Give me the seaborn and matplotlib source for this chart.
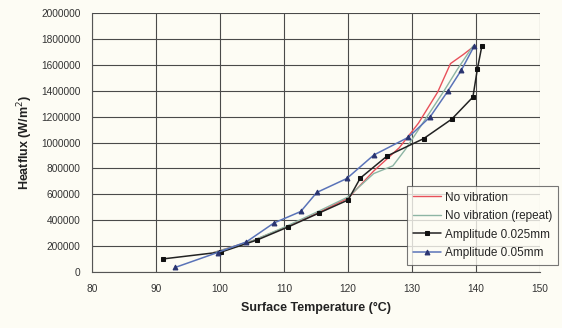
import numpy as np
import pandas as pd
import seaborn as sns
import matplotlib.pyplot as plt

# series
red_t = [99, 105, 110, 115, 120, 124, 128, 131, 134, 136, 138, 139.7]
red_q = [150000, 240000, 340000, 450000, 570000, 780000, 960000, 1150000, 1390000, 1610000, 1680000, 1745000]

green_t = [99, 105, 110, 115, 120, 124, 127, 129, 131, 133, 135, 137, 139.5]
green_q = [150000, 240000, 345000, 460000, 580000, 760000, 820000, 950000, 1100000, 1250000, 1400000, 1560000, 1745000]

amp025_t = [91, 100.2, 105.8, 110.6, 115.5, 120, 121.9, 126.1, 131.8, 136.2, 139.5, 140.2, 140.9]
amp025_q = [100000, 154000, 247000, 347000, 456000, 556000, 725000, 896000, 1030000, 1181000, 1351000, 1568000, 1745000]

amp05_t = [93, 99.6, 104.1, 108.4, 112.6, 115.1, 119.8, 124, 129.4, 132.8, 135.6, 137.7, 139.7]
amp05_q = [35000, 150000, 232000, 378000, 467000, 614000, 722000, 903000, 1040000, 1197000, 1398000, 1560000, 1745000]

labels = ["No vibration", "No vibration (repeat)", "Amplitude 0.025mm", "Amplitude 0.05mm"]

bg = "#fdfcf4"
sns.set_style("white")
plt.rcParams['font.family'] = ['Liberation Sans', 'DejaVu Sans']

fig = plt.figure(figsize=(5.62, 3.28), dpi=100, facecolor=bg)
ax = fig.add_axes([0.164, 0.171, 0.797, 0.789])
ax.set_facecolor(bg)

sns.lineplot(x=red_t, y=red_q, sort=False, color="#e8505a", lw=1.0, ax=ax, label=labels[0])
sns.lineplot(x=green_t, y=green_q, sort=False, color="#8db5a4", lw=1.0, ax=ax, label=labels[1])
sns.lineplot(x=amp025_t, y=amp025_q, sort=False, color="#222222", lw=1.1, marker="s",
             markersize=3.2, markeredgecolor="#111111", markerfacecolor="#111111", ax=ax, label=labels[2])
sns.lineplot(x=amp05_t, y=amp05_q, sort=False, color="#5a73b8", lw=1.1, marker="^",
             markersize=3.5, markeredgecolor="#2a3470", markerfacecolor="#2a3470", ax=ax, label=labels[3])

ax.set_xlim(80, 150)
ax.set_ylim(0, 2000000)
ax.set_xticks(np.arange(80, 151, 10))
ax.set_yticks(np.arange(0, 2000001, 200000))
ax.set_yticklabels([str(v) for v in range(0, 2000001, 200000)])
ax.grid(True, color="#4a4a4a", lw=0.8)
for s in ["top", "right"]:
    ax.spines[s].set_visible(False)
ax.spines["left"].set_color("#555555")
ax.spines["bottom"].set_color("#555555")
ax.tick_params(axis="both", direction="inout", length=5, width=0.8, color="#555555",
               labelsize=7.3, labelcolor="#333333", pad=6)

ax.set_xlabel("Surface Temperature (°C)", fontsize=9, fontweight="bold", color="#222222", labelpad=6)
ax.set_ylabel("Heatflux (W/m$^2$)", fontsize=9, fontweight="bold", color="#222222", labelpad=4)

leg = ax.legend(loc="lower right", bbox_to_anchor=(558 / 562, 1 - 265 / 328),
                bbox_transform=fig.transFigure, fontsize=8.5, frameon=True,
                fancybox=False, borderpad=0.5, handlelength=2.4, labelspacing=0.55,
                handletextpad=0.3, borderaxespad=0)
leg.get_frame().set_edgecolor("#555555")
leg.get_frame().set_facecolor(bg)
leg.get_frame().set_linewidth(0.8)

fig.savefig("out.png", dpi=100, facecolor=bg)
